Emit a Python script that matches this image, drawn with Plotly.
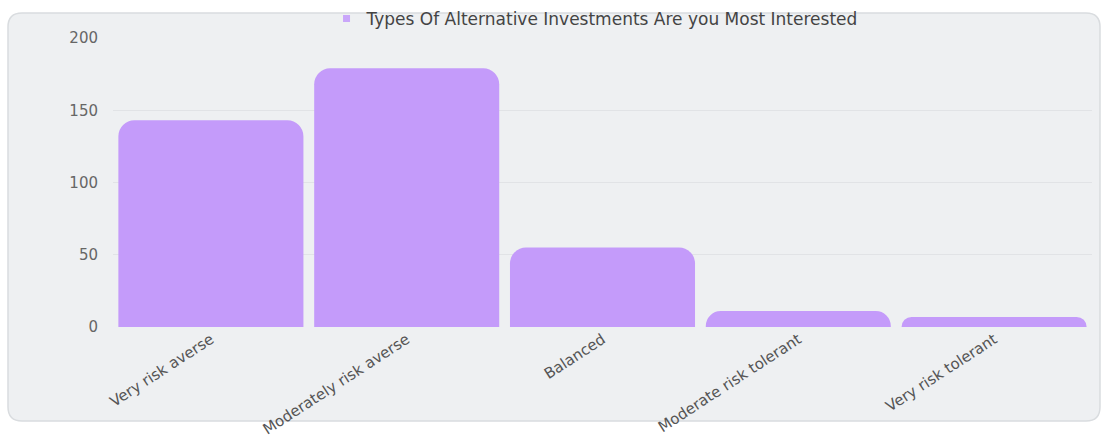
import plotly.graph_objects as go

categories = ["Very risk averse", "Moderately risk averse", "Balanced",
              "Moderate risk tolerant", "Very risk tolerant"]
values = [143, 179, 55, 11, 7]
series_name = "Types Of Alternative Investments Are you Most Interested"
y_ticks = [0, 50, 100, 150, 200]

W, H = 1106, 444
L, R, T, B = 113, 14, 38, 117
pw, ph = W - L - R, H - T - B

def px2paper(x, y):
    return (x - L) / pw, (H - B - y) / ph

def rounded_rect(x0, y0, x1, y1, r):
    def p(x, y):
        a, b = px2paper(x, y)
        return f"{a:.5f},{b:.5f}"
    d = f"M {p(x0 + r, y0)} L {p(x1 - r, y0)} Q {p(x1, y0)} {p(x1, y0 + r)} "
    d += f"L {p(x1, y1 - r)} Q {p(x1, y1)} {p(x1 - r, y1)} "
    d += f"L {p(x0 + r, y1)} Q {p(x0, y1)} {p(x0, y1 - r)} "
    d += f"L {p(x0, y0 + r)} Q {p(x0, y0)} {p(x0 + r, y0)} Z"
    return d

bar_color = "#c49bfa"

fig = go.Figure()
fig.add_trace(go.Bar(
    x=categories, y=values, name=series_name,
    marker=dict(color=bar_color, cornerradius=16, line=dict(width=0)),
    showlegend=False,
))
# legend entry with a small square swatch
fig.add_trace(go.Scatter(
    x=[None], y=[None], mode="markers", name=series_name,
    marker=dict(symbol="square", size=7, color="#c9a6fa"),
    showlegend=True, hoverinfo="skip",
))

fig.add_shape(type="path", xref="paper", yref="paper", layer="below",
              path=rounded_rect(8, 13, 1100, 421, 14),
              fillcolor="#eef0f2", line=dict(color="#d9dcdf", width=1.5))

font_family = "DejaVu Sans"
fig.update_layout(
    width=W, height=H,
    margin=dict(l=L, r=R, t=T, b=B, autoexpand=False),
    paper_bgcolor="white", plot_bgcolor="rgba(0,0,0,0)",
    bargap=0.055,
    font=dict(family=font_family, color="#555555", size=13),
    showlegend=True,
    legend=dict(
        orientation="h", xref="container", yref="container",
        x=0.538, xanchor="center", y=1 - 19 / H, yanchor="middle",
        font=dict(size=17, color="#444444", family=font_family),
        bgcolor="rgba(0,0,0,0)", itemwidth=30,
    ),
    xaxis=dict(
        tickangle=-33, showgrid=False, showline=False, zeroline=False,
        tickfont=dict(size=15, color="#555555"),
        ticks="",
    ),
    yaxis=dict(
        range=[0, 200], tickvals=y_ticks, showgrid=True,
        gridcolor="#e1e3e6", gridwidth=1, zeroline=False, showline=False,
        tickfont=dict(size=15, color="#666666"),
        ticklabelstandoff=14,
    ),
)

fig.write_html("out.html")
